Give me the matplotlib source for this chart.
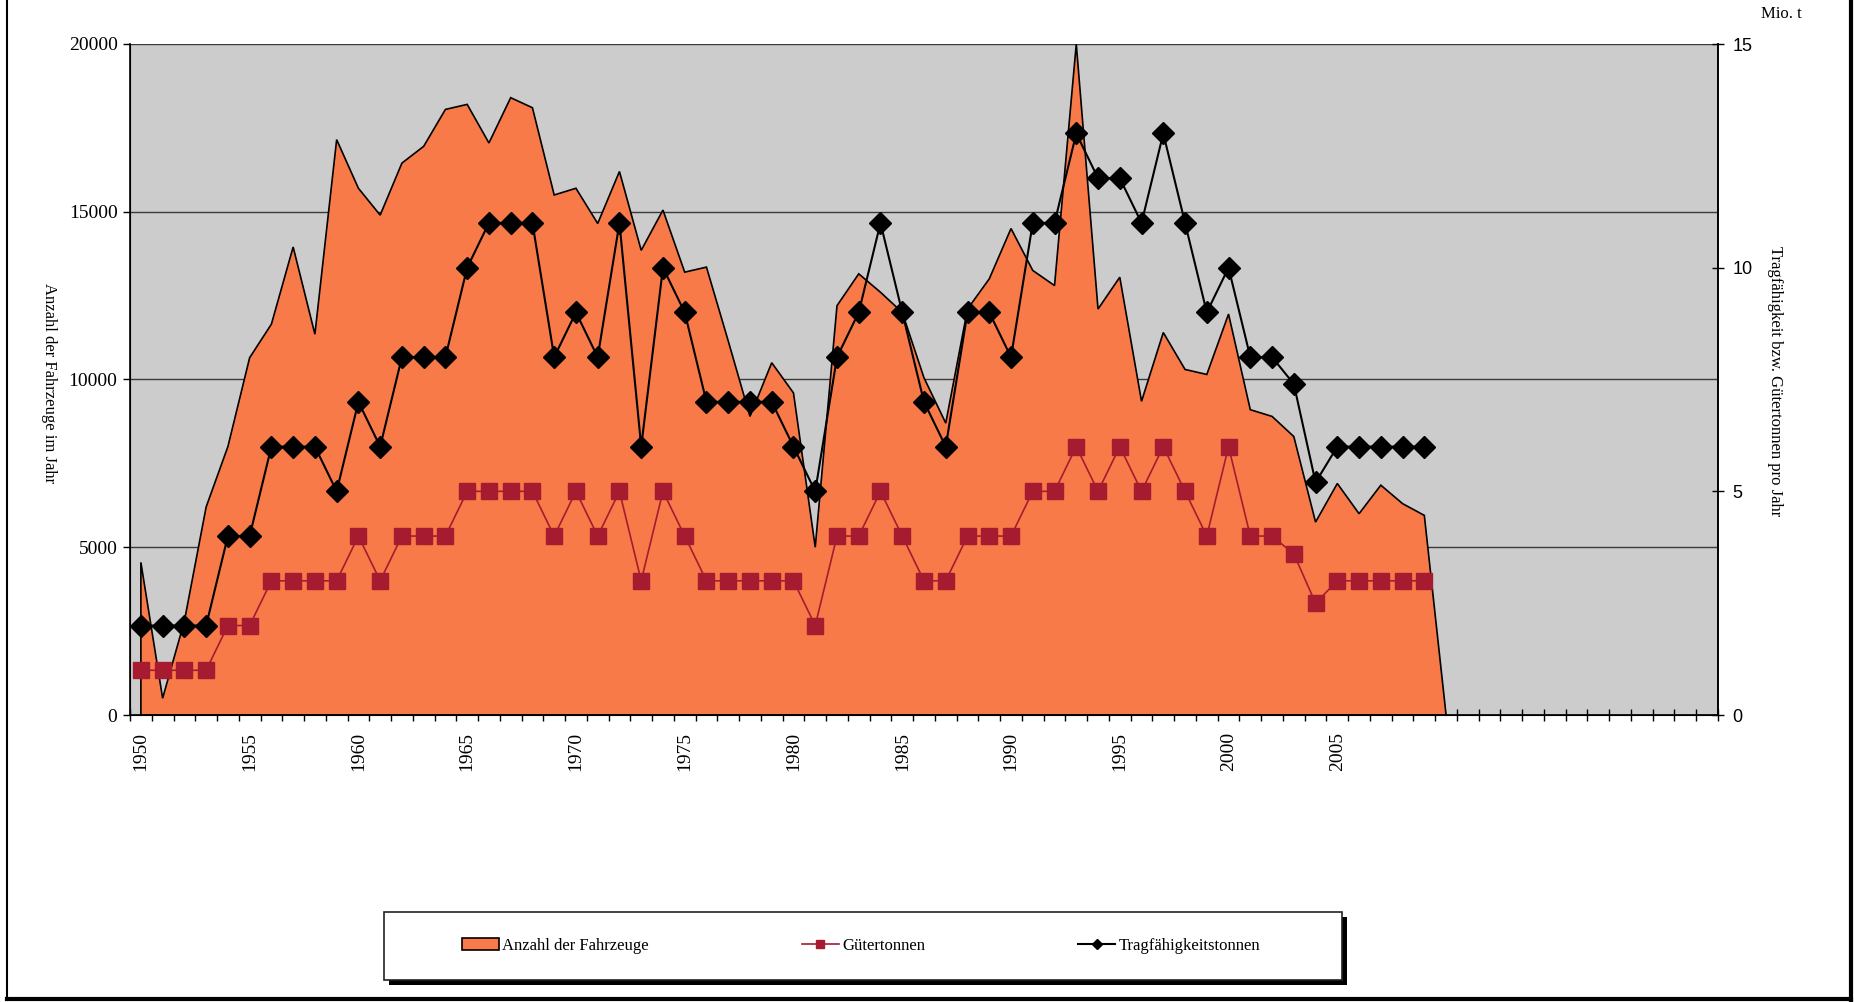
import numpy as np
import matplotlib
matplotlib.use("Agg")
import matplotlib.pyplot as plt
from matplotlib.patches import Rectangle
from matplotlib.lines import Line2D

# categories on the x axis (Excel category axis, labels only every 5 years up to 2005)
years = list(range(1950, 2023))
label_years = list(range(1950, 2006, 5))

# Anzahl der Fahrzeuge (left axis), 1950..2010
fahrzeuge = [4550, 500, 2800, 6200, 8000, 10650, 11650, 13950, 11350, 17150,
             15700, 14900, 16450, 16950, 18050, 18200, 17050, 18400, 18100, 15500,
             15700, 14650, 16200, 13850, 15050, 13200, 13350, 11150, 8900, 10500,
             9600, 5000, 12200, 13150, 12600, 12000, 10050, 8700, 12100, 13000,
             14500, 13250, 12800, 20000, 12100, 13050, 9350, 11400, 10300, 10150,
             11950, 9100, 8900, 8300, 5750, 6900, 6000, 6850, 6300, 5950,
             0]

# Gütertonnen (Mio. t, right axis), 1950..2009
gueter = [1, 1, 1, 1, 2, 2, 3, 3, 3, 3,
          4, 3, 4, 4, 4, 5, 5, 5, 5, 4,
          5, 4, 5, 3, 5, 4, 3, 3, 3, 3,
          3, 2, 4, 4, 5, 4, 3, 3, 4, 4,
          4, 5, 5, 6, 5, 6, 5, 6, 5, 4,
          6, 4, 4, 3.6, 2.5, 3, 3, 3, 3, 3]

# Tragfähigkeitstonnen (Mio. t, right axis), 1950..2009
trag = [2, 2, 2, 2, 4, 4, 6, 6, 6, 5,
        7, 6, 8, 8, 8, 10, 11, 11, 11, 8,
        9, 8, 11, 6, 10, 9, 7, 7, 7, 7,
        6, 5, 8, 9, 11, 9, 7, 6, 9, 9,
        8, 11, 11, 13, 12, 12, 11, 13, 11, 9,
        10, 8, 8, 7.4, 5.2, 6, 6, 6, 6, 6]

orange = "#F87A48"
red = "#A61B30"
serif = ["Liberation Serif", "DejaVu Serif"]
sans = ["Liberation Sans", "DejaVu Sans"]

W, H = 1854, 1002
fig = plt.figure(figsize=(W / 100, H / 100), dpi=100)
ax = fig.add_axes([130 / W, 1 - 715 / H, (1718 - 130) / W, (715 - 44) / H])
ax.set_facecolor("#CCCCCC")

x_area = np.arange(len(fahrzeuge))
ax.fill(np.r_[0, x_area, x_area[-1]], np.r_[0, fahrzeuge, 0],
        facecolor=orange, edgecolor="black", linewidth=1.2, zorder=2)

ax.set_xlim(-0.5, len(years) - 0.5)
ax.set_ylim(0, 20000)
ax.set_yticks([0, 5000, 10000, 15000, 20000])
ax.set_yticklabels(["0", "5000", "10000", "15000", "20000"], family=serif, fontsize=14)
ax.yaxis.grid(True, color="#3a3a3a", linewidth=1.0)
ax.set_axisbelow(True)
ax.tick_params(axis="y", direction="out", length=5, width=1, pad=4)

# x: labels at category centres, tick marks at category boundaries
ax.set_xticks([years.index(y) for y in label_years])
ax.set_xticklabels([str(y) for y in label_years], rotation=90, family=serif, fontsize=14)
ax.set_xticks(np.arange(len(years) + 1) - 0.5, minor=True)
ax.tick_params(axis="x", which="major", length=0, pad=12)
ax.tick_params(axis="x", which="minor", direction="inout", length=9, width=1)

for s in ["left", "bottom", "right"]:
    ax.spines[s].set_color("black")
    ax.spines[s].set_linewidth(1.2)
ax.spines["top"].set_visible(False)

ax2 = ax.twinx()
ax2.set_ylim(0, 15)
ax2.set_yticks([0, 5, 10, 15])
ax2.set_yticklabels(["0", "5", "10", "15"], family=sans, fontsize=13)
ax2.tick_params(axis="y", direction="inout", length=9, width=1, pad=6)
ax2.spines["top"].set_visible(False)
ax2.spines["right"].set_linewidth(1.2)

ax2.plot(np.arange(len(gueter)), gueter, color=red, linewidth=1.2,
         marker="s", markersize=11, markerfacecolor=red, markeredgecolor=red, zorder=3)
ax2.plot(np.arange(len(trag)), trag, color="black", linewidth=1.5,
         marker="D", markersize=11, markerfacecolor="black", markeredgecolor="black", zorder=4)

# axis titles
fig.text(49 / W, 1 - 383 / H, "Anzahl der Fahrzeuge im Jahr", rotation=-90,
         ha="center", va="center", family=serif, fontsize=12)
fig.text(1775 / W, 1 - 381 / H, "Tragfähigkeit bzw. Gütertonnen pro Jahr", rotation=-90,
         ha="center", va="center", family=serif, fontsize=12)
fig.text(1781 / W, 1 - 14 / H, "Mio. t", ha="center", va="center", family=serif, fontsize=12)

# legend box with black shadow
lx0, ly0, lx1, ly1 = 384, 912, 1342, 980
fig.patches.append(Rectangle((lx0 / W + 5 / W, 1 - ly1 / H - 5 / H), (lx1 - lx0) / W, (ly1 - ly0) / H,
                             transform=fig.transFigure, facecolor="black", edgecolor="none", zorder=1))
fig.patches.append(Rectangle((lx0 / W, 1 - ly1 / H), (lx1 - lx0) / W, (ly1 - ly0) / H,
                             transform=fig.transFigure, facecolor="white", edgecolor="#222222",
                             linewidth=1.2, zorder=2))
handles = [
    Rectangle((0, 0), 1, 1, facecolor=orange, edgecolor="black", linewidth=1.2),
    Line2D([], [], color=red, linewidth=1.2, marker="s", markersize=6, markerfacecolor=red),
    Line2D([], [], color="black", linewidth=1.5, marker="D", markersize=5, markerfacecolor="black"),
]
labels = ["Anzahl der Fahrzeuge", "Gütertonnen", "Tragfähigkeitstonnen"]
leg = fig.legend(handles, labels, ncol=3, loc="center left",
                 bbox_to_anchor=(447 / W, 1 - 946 / H), frameon=False,
                 prop={"family": serif, "size": 12}, handlelength=2.2, handletextpad=0.2,
                 columnspacing=9.2)
leg.set_zorder(3)

# outer frame of the chart area (left, right, bottom)
fig.add_artist(Line2D([7 / W, 7 / W], [1.0, 1 - 1000 / H], transform=fig.transFigure,
                      color="black", linewidth=1.5))
fig.add_artist(Line2D([1851 / W, 1851 / W], [1.0, 1 - 1000 / H], transform=fig.transFigure,
                      color="black", linewidth=3))
fig.add_artist(Line2D([7 / W, 1851 / W], [1 - 999 / H, 1 - 999 / H], transform=fig.transFigure,
                      color="black", linewidth=3))

fig.savefig("out.png", dpi=100)
